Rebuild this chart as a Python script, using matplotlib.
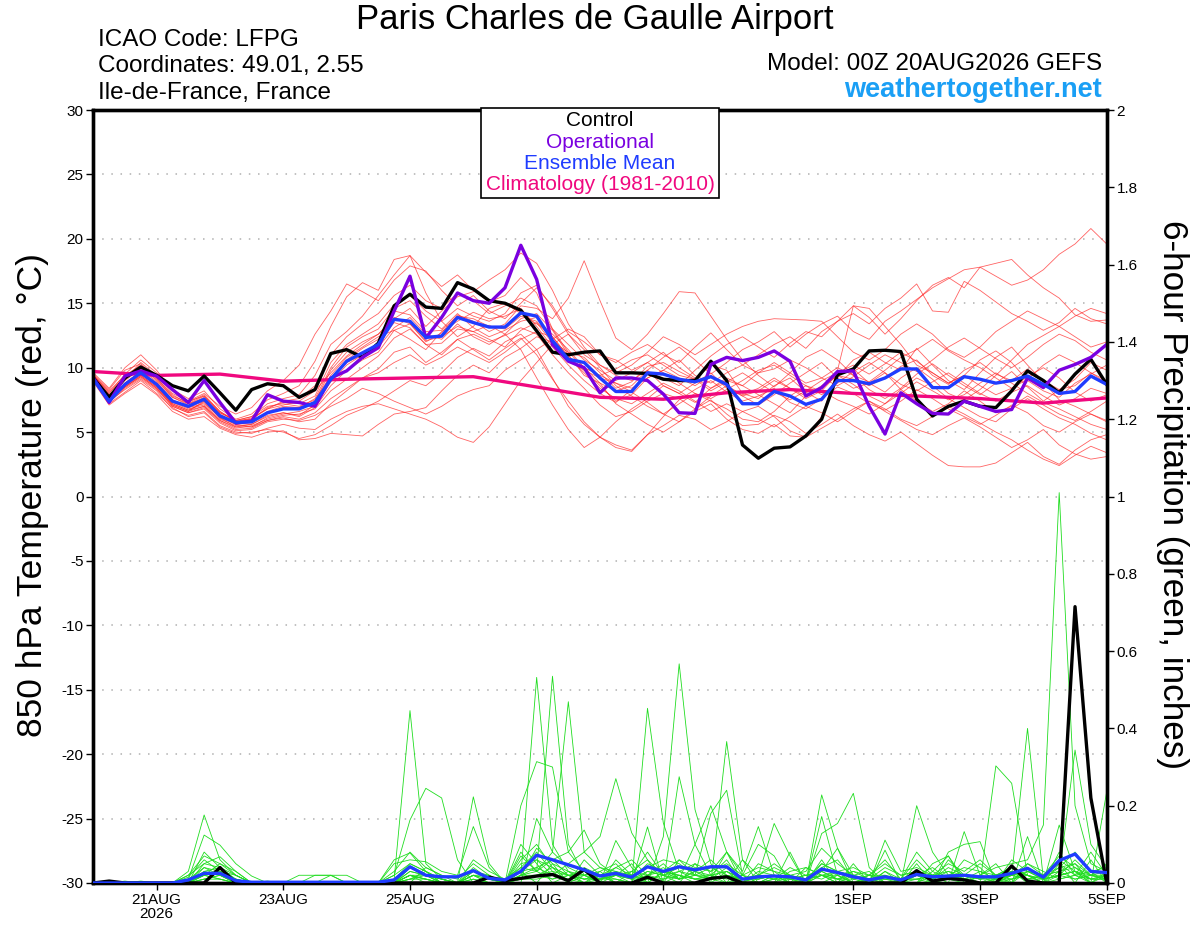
import numpy as np
import matplotlib
matplotlib.use("Agg")
import matplotlib.pyplot as plt
from matplotlib.patches import Rectangle

plt.rcParams['font.family'] = ['Liberation Sans', 'DejaVu Sans']

# ======================
# データ (6時間ごと, 20AUG2026 00Z から 5SEP 00Z まで)
# ======================
tick_days = [1, 3, 5, 7, 9, 12, 14, 16]
tick_labels = ["21AUG\n2026", "23AUG", "25AUG", "27AUG", "29AUG", "1SEP", "3SEP", "5SEP"]

control_t = [9.2, 7.7, 9.2, 10.05, 9.4, 8.6, 8.2, 9.35, 8.05, 6.7, 8.3, 8.75, 8.6, 7.7, 8.3, 11.1, 11.4, 10.8, 11.9, 14.8, 15.7, 14.7,
             14.6, 16.6, 16.1, 15.2, 15.0, 14.45, 12.85, 11.2, 11.0, 11.2, 11.3, 9.6, 9.6, 9.55, 9.1, 9.0, 9.0, 10.5, 9.0, 4.0, 2.97,
             3.75, 3.85, 4.7, 6.0, 9.45, 9.9, 11.3, 11.35, 11.25, 7.55, 6.25, 7.0, 7.4, 7.0, 6.9, 8.2, 9.75, 9.0, 8.05, 9.5, 10.65, 8.7]
oper_t = [9.2, 7.3, 9.35, 9.75, 9.35, 8.3, 7.3, 9.0, 7.3, 5.7, 5.85, 7.9, 7.4, 7.3, 7.0, 9.2, 9.75, 10.8, 11.55, 14.4, 17.1, 12.3,
          13.9, 15.8, 15.2, 15.0, 16.2, 19.5, 16.85, 11.8, 10.5, 10.0, 8.05, 9.2, 9.2, 9.0, 7.95, 6.5, 6.45, 10.25, 10.8, 10.55, 10.8,
          11.3, 10.5, 7.8, 8.45, 9.7, 9.75, 7.0, 4.85, 8.05, 7.2, 6.45, 6.4, 7.4, 7.0, 6.6, 6.75, 9.2, 8.45, 9.8, 10.25, 10.8, 11.8]
mean_t = [9.1, 7.4, 8.7, 9.6, 8.7, 7.4, 7.0, 7.55, 6.25, 5.75, 5.8, 6.5, 6.8, 6.8, 7.3, 9.1, 10.5, 11.15, 11.8, 13.75, 13.6, 12.35,
          12.45, 13.9, 13.5, 13.15, 13.15, 14.25, 14.0, 12.1, 10.65, 10.4, 9.2, 8.15, 8.15, 9.6, 9.5, 9.1, 8.9, 9.3, 8.7, 7.2, 7.2,
          8.15, 7.8, 7.15, 7.55, 9.0, 9.0, 8.75, 9.2, 9.9, 9.9, 8.45, 8.45, 9.3, 9.1, 8.8, 9.0, 9.35, 8.7, 8.0, 8.15, 9.35, 8.7]
# 気候値は日ごと
clim_t = [9.7, 9.4, 9.5, 8.95, 9.1, 9.2, 9.3, 8.5, 7.7, 7.55, 8.05, 8.3, 8.0, 7.8, 7.6, 7.25, 7.65]

temp_m01 = [9.4, 8.0, 9.5, 10.6, 9.6, 8.3, 7.6, 8.2, 6.8, 6.0, 6.4, 7.5, 8.0, 8.6, 10.5,
            13.2, 15.5, 16.6, 16.0, 18.4, 18.7, 17.4, 16.3, 17.2, 16.0, 15.1, 15.6, 17.0, 15.8,
            13.0, 11.2, 10.8, 9.6, 8.4, 8.9, 10.1, 10.4, 9.7, 9.1, 10.2, 9.8, 8.0, 7.6,
            8.6, 9.2, 8.1, 7.4, 9.3, 10.6, 11.2, 10.4, 9.8, 11.5, 10.2, 9.0, 8.3, 9.6, 10.8, 11.6, 10.2, 8.9, 7.5, 7.0, 6.4, 5.8]
temp_m02 = [9.0, 7.2, 8.1, 9.0, 8.0, 6.9, 6.2, 6.5, 5.4, 4.9, 5.0, 5.2, 5.0, 4.5, 4.8,
            5.5, 6.3, 6.8, 7.4, 8.2, 9.0, 8.6, 9.6, 10.8, 11.5, 10.9, 12.0, 12.6, 11.4,
            9.2, 7.0, 5.6, 4.6, 4.0, 3.6, 4.8, 5.5, 6.3, 6.0, 5.2, 5.8, 6.6, 7.0,
            6.2, 5.1, 4.6, 5.3, 6.0, 6.8, 7.4, 6.6, 5.9, 5.2, 4.8, 5.5, 6.1, 5.4, 4.6, 3.8, 4.4, 5.2, 4.0, 3.3, 2.9, 3.1]
temp_m03 = [9.5, 8.3, 9.8, 10.3, 9.2, 7.8, 7.3, 7.9, 6.6, 5.8, 6.1, 6.8, 7.1, 7.4, 8.2,
            9.6, 10.9, 11.8, 12.6, 13.8, 14.6, 13.2, 14.4, 15.5, 15.9, 16.8, 17.6, 18.9, 18.1,
            16.0, 13.4, 11.6, 10.2, 9.4, 9.0, 9.8, 8.6, 8.0, 8.8, 9.6, 8.4, 7.8, 8.2,
            9.0, 8.4, 7.6, 8.2, 9.5, 9.9, 8.8, 8.1, 9.2, 10.0, 9.1, 8.0, 7.5, 8.3, 9.4, 10.6, 11.8, 12.5, 13.2, 12.4, 11.6, 12.0]
temp_m04 = [9.2, 7.6, 8.6, 9.4, 8.5, 7.3, 6.8, 7.1, 6.0, 5.5, 5.6, 6.3, 6.5, 6.2, 6.9,
            8.6, 9.8, 10.6, 11.2, 12.9, 13.4, 12.0, 12.7, 14.1, 13.6, 12.8, 13.4, 14.8, 14.6,
            13.8, 15.4, 18.3, 15.2, 12.3, 11.4, 12.6, 14.2, 15.9, 15.8, 14.0, 12.2, 10.6, 9.4,
            8.5, 9.6, 10.8, 11.4, 10.6, 9.4, 8.3, 7.6, 8.4, 9.5, 10.3, 9.4, 8.6, 7.9, 8.8, 9.7, 8.5, 7.4, 8.3, 9.1, 10.4, 9.8]
temp_m05 = [9.3, 7.9, 9.0, 9.9, 8.9, 7.5, 7.0, 7.6, 6.4, 5.7, 5.7, 6.6, 7.0, 6.9, 7.6,
            10.0, 11.6, 12.4, 13.0, 14.6, 15.2, 14.0, 13.0, 14.2, 13.1, 12.4, 12.9, 13.6, 13.9,
            12.4, 10.9, 9.8, 8.6, 7.4, 7.9, 9.2, 9.8, 10.6, 9.4, 8.8, 9.6, 10.2, 11.0,
            11.8, 12.4, 11.5, 12.8, 13.6, 14.8, 13.9, 12.6, 13.8, 15.2, 16.4, 17.0, 16.2, 17.8, 17.1, 16.4, 16.8, 17.6, 18.8, 19.6, 20.8, 19.6]
temp_m06 = [9.1, 7.5, 8.8, 9.7, 8.6, 7.1, 6.6, 7.4, 6.1, 5.6, 5.4, 6.1, 6.4, 6.6, 7.0,
            9.2, 10.4, 11.0, 11.9, 13.5, 13.1, 11.8, 11.9, 13.0, 12.8, 13.3, 12.6, 13.8, 14.2,
            12.9, 11.0, 9.4, 8.8, 8.2, 8.6, 9.8, 10.8, 11.6, 10.6, 9.5, 10.4, 11.4, 12.0,
            12.8, 11.6, 12.6, 13.4, 14.0, 12.8, 12.2, 13.6, 14.4, 15.3, 16.2, 16.9, 17.6, 17.8, 18.1, 18.4, 17.2, 16.2, 15.4, 14.1, 13.6, 13.7]
temp_m07 = [9.4, 8.1, 9.2, 10.1, 9.0, 7.7, 7.1, 7.7, 6.5, 5.9, 6.2, 7.0, 7.2, 7.0, 7.5,
            9.4, 10.8, 11.6, 12.4, 12.9, 12.2, 11.4, 12.8, 13.6, 14.3, 13.8, 14.0, 14.6, 13.2,
            11.6, 10.2, 9.0, 8.0, 7.3, 8.3, 9.6, 9.2, 8.6, 9.8, 10.9, 11.8, 12.4, 11.6,
            10.8, 11.9, 12.8, 12.4, 13.6, 14.2, 13.4, 14.6, 15.4, 16.5, 14.4, 14.3, 16.7, 16.0, 15.1, 14.2, 13.6, 12.9, 13.5, 14.6, 13.8, 13.4]
temp_m08 = [9.0, 7.3, 8.4, 9.2, 8.3, 7.0, 6.5, 6.9, 5.8, 5.2, 5.3, 5.9, 6.2, 6.0, 6.5,
            7.6, 8.4, 9.2, 9.9, 11.2, 11.6, 10.4, 11.2, 12.2, 12.6, 12.0, 12.5, 13.1, 12.6,
            11.0, 9.6, 8.4, 7.1, 6.2, 6.6, 7.4, 8.0, 7.6, 6.8, 7.5, 6.4, 5.5, 5.6,
            6.3, 5.8, 4.9, 5.6, 6.4, 5.5, 4.8, 4.3, 5.0, 4.1, 3.2, 2.4, 2.3, 2.3, 2.6, 3.4, 4.2, 3.1, 2.5, 3.6, 4.4, 4.8]
temp_m09 = [9.2, 7.7, 8.7, 9.5, 8.7, 7.4, 6.9, 7.2, 6.2, 5.6, 5.8, 6.5, 6.9, 6.8, 7.4,
            9.8, 11.2, 12.0, 12.6, 13.9, 13.4, 12.1, 12.4, 13.2, 12.8, 12.2, 11.6, 12.9, 13.5,
            11.9, 10.5, 9.8, 9.2, 8.8, 8.1, 7.3, 6.4, 5.8, 6.6, 7.2, 6.0, 5.2, 4.9,
            5.6, 4.7, 4.6, 6.2, 9.8, 14.8, 14.6, 13.2, 11.8, 10.2, 9.6, 8.8, 9.4, 10.6, 11.3, 10.4, 9.0, 8.2, 7.7, 8.8, 9.5, 10.2]
temp_m10 = [9.1, 7.4, 8.3, 9.1, 8.2, 6.8, 6.3, 6.6, 5.5, 5.0, 4.9, 5.3, 5.6, 5.3, 5.2,
            6.0, 6.6, 7.0, 7.2, 6.8, 6.4, 6.0, 5.4, 4.6, 4.2, 5.4, 7.2, 9.0, 10.4,
            11.8, 12.6, 11.4, 10.0, 8.6, 7.8, 7.0, 6.4, 7.2, 8.0, 7.4, 6.8, 6.0, 5.8,
            6.6, 7.8, 8.6, 8.2, 7.5, 7.0, 6.4, 7.2, 8.3, 9.2, 8.6, 7.6, 6.9, 6.2, 5.8, 6.8, 7.6, 6.8, 6.1, 5.6, 4.9, 4.4]
temp_m11 = [9.6, 8.4, 10.0, 11.0, 9.8, 8.2, 7.4, 8.0, 7.0, 6.4, 6.9, 8.2, 9.0, 10.2, 12.6,
            14.4, 16.5, 15.9, 15.2, 16.8, 17.9, 17.5, 16.0, 14.8, 15.6, 14.4, 13.8, 15.0, 16.2,
            14.8, 12.8, 12.0, 11.0, 10.6, 9.8, 10.4, 11.2, 10.0, 9.2, 8.4, 9.0, 8.6, 9.6,
            10.4, 9.6, 8.8, 9.2, 10.0, 9.4, 8.9, 9.8, 10.8, 11.4, 12.2, 11.3, 10.6, 10.0, 9.2, 8.4, 9.1, 10.2, 11.0, 10.4, 9.6, 9.0]
temp_m12 = [8.9, 7.1, 8.0, 8.8, 7.9, 6.6, 6.0, 6.2, 5.3, 4.8, 4.6, 5.0, 5.1, 4.4, 4.5,
            4.9, 4.8, 4.7, 5.6, 6.4, 6.6, 6.9, 8.2, 9.4, 10.2, 9.6, 10.8, 11.5, 12.4,
            12.0, 11.2, 10.0, 8.8, 7.2, 6.4, 5.6, 5.0, 5.8, 6.8, 7.8, 8.6, 7.8, 7.1,
            7.9, 8.8, 9.6, 10.4, 9.2, 8.4, 8.8, 9.6, 8.3, 7.4, 6.6, 7.2, 8.2, 7.4, 6.5, 7.0, 7.8, 7.1, 6.4, 5.9, 6.6, 7.4]
temp_m13 = [9.3, 7.8, 9.1, 10.0, 9.1, 7.7, 7.2, 7.8, 6.6, 5.9, 6.2, 7.2, 7.6, 7.9, 9.4,
            11.8, 12.8, 14.0, 15.6, 17.2, 18.7, 15.8, 13.6, 12.4, 13.2, 14.6, 15.0, 14.2, 13.4,
            12.6, 11.4, 10.0, 9.4, 9.9, 10.6, 11.0, 10.2, 9.4, 9.1, 8.2, 8.9, 9.6, 8.8,
            8.1, 7.5, 8.2, 9.0, 9.6, 10.2, 9.5, 10.3, 11.2, 10.5, 9.6, 8.8, 9.4, 8.6, 7.9, 8.4, 9.3, 10.0, 9.2, 8.1, 7.4, 7.9]
temp_m14 = [9.0, 7.4, 8.5, 9.3, 8.4, 7.1, 6.6, 7.0, 5.9, 5.3, 5.5, 6.0, 6.3, 6.4, 6.8,
            8.2, 9.1, 10.0, 10.9, 12.3, 13.0, 11.8, 11.0, 12.2, 11.4, 10.6, 11.5, 12.3, 11.0,
            9.1, 7.4, 5.8, 4.6, 3.8, 3.5, 4.8, 6.2, 7.5, 8.3, 9.0, 8.1, 7.4, 7.8,
            8.4, 7.3, 6.8, 7.6, 8.5, 8.0, 7.2, 6.7, 7.4, 8.3, 7.6, 6.8, 6.2, 5.6, 6.3, 7.1, 6.5, 5.5, 5.0, 5.8, 6.4, 5.9]
temp_m15 = [9.2, 7.6, 8.6, 9.6, 8.6, 7.2, 6.7, 7.3, 6.1, 5.4, 5.6, 6.2, 6.5, 6.3, 7.1,
            8.9, 10.2, 11.0, 11.6, 13.1, 13.9, 12.6, 12.2, 13.4, 12.4, 11.8, 12.6, 11.4, 9.2,
            7.1, 5.2, 3.8, 4.6, 5.8, 6.8, 7.6, 8.6, 8.0, 7.3, 8.4, 9.2, 8.6, 7.9,
            7.2, 6.5, 7.8, 8.6, 9.4, 8.7, 7.8, 7.2, 8.0, 8.9, 8.2, 7.5, 7.9, 8.8, 9.6, 8.8, 8.0, 7.3, 6.8, 6.2, 5.6, 5.2]
temp_m16 = [9.1, 7.5, 8.5, 9.3, 8.4, 7.0, 6.5, 6.8, 5.7, 5.1, 5.2, 5.8, 6.0, 5.9, 6.3,
            7.0, 7.6, 8.4, 8.0, 7.4, 6.9, 6.4, 7.0, 7.8, 8.3, 8.6, 9.8, 10.6, 11.4,
            12.2, 13.0, 12.4, 11.0, 10.4, 11.2, 11.8, 11.0, 10.4, 11.6, 12.7, 11.4, 10.2, 9.6,
            9.9, 10.6, 10.0, 9.2, 8.6, 9.3, 10.2, 11.0, 10.4, 9.7, 10.6, 11.6, 12.3, 11.5, 10.7, 10.0, 10.8, 11.8, 12.6, 12.1, 11.2, 10.6]
temp_m17 = [9.2, 7.7, 8.8, 9.7, 8.8, 7.4, 6.9, 7.4, 6.2, 5.7, 5.9, 6.5, 6.8, 6.9, 7.3,
            9.1, 10.6, 11.5, 12.2, 14.4, 14.1, 12.8, 12.9, 14.0, 13.8, 13.2, 13.0, 14.0, 13.6,
            12.2, 10.6, 10.0, 9.4, 8.8, 8.4, 9.2, 9.8, 9.2, 8.6, 9.4, 8.6, 7.9, 8.4,
            9.2, 8.4, 7.8, 8.4, 9.4, 9.1, 8.6, 9.2, 10.1, 10.6, 9.4, 8.7, 9.8, 10.4, 9.5, 9.0, 9.9, 9.0, 8.3, 8.6, 9.6, 8.8]
temp_m18 = [9.3, 7.9, 9.1, 10.4, 9.4, 8.0, 7.4, 7.8, 6.5, 5.9, 6.0, 6.8, 7.4, 7.6, 8.6,
            11.0, 12.4, 13.4, 14.2, 15.6, 16.4, 15.2, 14.6, 15.8, 15.2, 14.2, 14.8, 15.4, 14.8,
            13.0, 11.8, 10.6, 9.8, 9.0, 9.6, 10.4, 9.6, 8.8, 8.0, 7.6, 8.3, 9.0, 9.8,
            10.2, 9.4, 8.6, 7.9, 8.8, 9.7, 10.4, 9.6, 8.7, 8.2, 8.9, 9.6, 8.8, 8.0, 7.4, 8.1, 8.6, 7.8, 7.1, 7.6, 8.4, 8.0]
temp_m19 = [9.1, 7.6, 8.5, 9.4, 8.5, 7.2, 6.7, 7.0, 5.9, 5.4, 5.4, 5.9, 6.1, 5.8, 6.0,
            7.2, 8.2, 9.2, 9.6, 10.4, 11.0, 10.2, 10.8, 11.6, 11.0, 10.4, 11.2, 12.2, 12.8,
            12.4, 10.8, 9.6, 8.4, 7.6, 7.2, 8.0, 8.8, 8.2, 7.4, 6.6, 7.2, 6.6, 6.0,
            5.4, 6.2, 7.0, 6.5, 5.8, 6.6, 7.4, 6.8, 6.0, 5.5, 6.2, 7.0, 6.4, 5.7, 5.0, 4.4, 3.6, 2.9, 2.4, 3.2, 3.9, 3.4]
temp_m20 = [9.4, 8.2, 9.4, 10.2, 9.2, 7.9, 7.2, 7.6, 6.3, 5.8, 6.0, 6.9, 7.3, 7.2, 7.8,
            10.4, 11.8, 12.6, 13.4, 14.9, 15.6, 14.4, 13.6, 14.6, 14.0, 13.6, 14.2, 15.8, 16.4,
            14.6, 12.6, 11.0, 10.2, 9.6, 10.2, 11.2, 12.4, 11.8, 11.0, 11.8, 12.6, 13.2, 13.6,
            13.8, 13.75, 13.7, 13.6, 12.4, 11.2, 10.6, 11.4, 12.6, 13.4, 12.6, 11.4, 10.8, 11.6, 12.8, 13.6, 14.4, 13.8, 13.2, 14.0, 14.6, 14.2]

# 降水量 (inches / 6h)
control_p = [0, 0.005, 0, 0, 0, 0, 0, 0, 0.04, 0, 0, 0, 0,
             0, 0, 0, 0, 0, 0, 0, 0, 0, 0, 0, 0, 0.015,
             0.006, 0.012, 0.018, 0.022, 0.006, 0.035, 0, 0, 0, 0.015, 0, 0, 0,
             0.012, 0.016, 0, 0, 0, 0, 0, 0, 0, 0, 0, 0, 0,
             0.032, 0.005, 0.012, 0.008, 0, 0, 0.044, 0.005, 0, 0, 0.715, 0.22, 0]
mean_p = [0, 0, 0, 0, 0, 0, 0.008, 0.025, 0.025, 0.006, 0.002, 0.002, 0.002,
          0.002, 0.002, 0.002, 0.002, 0.002, 0.002, 0.008, 0.042, 0.02, 0.016, 0.016, 0.032, 0.012,
          0.008, 0.03, 0.072, 0.06, 0.047, 0.034, 0.018, 0.025, 0.015, 0.042, 0.03, 0.042, 0.034,
          0.042, 0.042, 0.01, 0.016, 0.018, 0.016, 0.008, 0.036, 0.027, 0.016, 0.008, 0.016, 0.008,
          0.022, 0.016, 0.018, 0.02, 0.016, 0.016, 0.025, 0.038, 0.015, 0.058, 0.075, 0.03, 0.027]

precip_m01 = [0, 0, 0, 0, 0, 0, 0.03, 0.176, 0.06, 0.02, 0, 0, 0,
              0, 0, 0, 0, 0, 0, 0.01, 0.446, 0.05, 0.01, 0, 0.02, 0,
              0, 0.02, 0.532, 0.1, 0.03, 0, 0.02, 0.01, 0, 0, 0, 0.06, 0.02,
              0.01, 0.08, 0, 0, 0.02, 0, 0.04, 0.02, 0, 0, 0.01, 0, 0,
              0, 0.02, 0.01, 0, 0.02, 0, 0.01, 0.02, 0, 0.15, 0.03, 0, 0.02]
precip_m02 = [0, 0, 0.005, 0, 0, 0, 0.01, 0.124, 0.098, 0.05, 0.018, 0, 0,
              0, 0, 0, 0, 0, 0, 0.02, 0.163, 0.245, 0.22, 0.06, 0, 0,
              0, 0.08, 0.03, 0.535, 0.1, 0.02, 0, 0.02, 0.05, 0, 0.03, 0.01, 0.1,
              0.2, 0.08, 0.03, 0.146, 0.02, 0, 0, 0.02, 0.02, 0, 0.01, 0, 0,
              0, 0.03, 0.07, 0.01, 0, 0, 0.02, 0.05, 0.03, 0.01, 0.02, 0.08, 0.02]
precip_m03 = [0, 0, 0, 0.005, 0, 0, 0, 0.05, 0.068, 0.03, 0, 0, 0,
              0, 0, 0, 0, 0, 0, 0.06, 0.078, 0.03, 0, 0, 0.223, 0.05,
              0, 0.2, 0.314, 0.3, 0.08, 0.137, 0.05, 0.02, 0, 0.02, 0.04, 0.01, 0.03,
              0.02, 0, 0.06, 0.02, 0.154, 0.07, 0, 0.228, 0.09, 0.02, 0, 0.03, 0,
              0.2, 0.08, 0.02, 0.01, 0, 0.01, 0.02, 0.4, 0.01, 0.02, 0.03, 0, 0]
precip_m04 = [0, 0, 0, 0, 0, 0, 0.02, 0.05, 0.04, 0, 0, 0.005, 0,
              0.02, 0.02, 0.02, 0, 0, 0, 0, 0.04, 0.02, 0, 0, 0, 0,
              0, 0, 0.167, 0.08, 0.469, 0.08, 0.12, 0.27, 0.13, 0.06, 0, 0.02, 0,
              0, 0.366, 0.06, 0, 0, 0.08, 0, 0.172, 0.02, 0, 0, 0.085, 0,
              0, 0, 0, 0.133, 0.02, 0.05, 0, 0.12, 0, 0.05, 0, 0.06, 0]
precip_m05 = [0, 0, 0, 0, 0, 0, 0, 0.03, 0.02, 0, 0, 0, 0,
              0, 0, 0, 0, 0, 0, 0.05, 0.06, 0.055, 0.03, 0.02, 0.146, 0.04,
              0, 0.06, 0.1, 0.04, 0, 0, 0.03, 0, 0, 0.452, 0.155, 0.03, 0.02,
              0.18, 0.24, 0.02, 0.1, 0.07, 0, 0, 0.128, 0.154, 0.232, 0.04, 0, 0,
              0.02, 0, 0.08, 0.1, 0.107, 0, 0.03, 0, 0, 0.02, 0.344, 0.1, 0.04]
precip_m06 = [0, 0, 0, 0, 0, 0, 0, 0.08, 0.04, 0.02, 0, 0, 0,
              0, 0, 0.02, 0.02, 0, 0, 0, 0.02, 0.01, 0, 0, 0, 0,
              0, 0.03, 0, 0.05, 0, 0.02, 0, 0.11, 0.04, 0, 0.12, 0.567, 0.19,
              0.05, 0, 0.02, 0, 0, 0.03, 0.04, 0.02, 0, 0.05, 0, 0.111, 0.03,
              0.04, 0.02, 0, 0, 0, 0.303, 0.258, 0.02, 0, 0.08, 0.02, 0, 0.236]
precip_m07 = [0, 0, 0, 0, 0, 0, 0.015, 0.06, 0.03, 0, 0, 0, 0,
              0, 0, 0, 0, 0, 0, 0, 0.03, 0.02, 0, 0, 0.06, 0.03,
              0.01, 0.04, 0.08, 0.03, 0, 0.06, 0.02, 0, 0, 0.145, 0, 0.275, 0.1,
              0.02, 0.06, 0, 0, 0.02, 0, 0, 0.03, 0.09, 0, 0.02, 0, 0,
              0.05, 0, 0.06, 0.02, 0, 0, 0.06, 0.03, 0.02, 0.04, 0.08, 0.03, 0]
precip_m08 = [0, 0, 0, 0, 0, 0, 0, 0.02, 0.05, 0.03, 0, 0, 0,
              0, 0.02, 0.02, 0, 0, 0, 0, 0, 0.04, 0.02, 0, 0, 0,
              0, 0.1, 0.05, 0, 0.02, 0, 0, 0.06, 0.02, 0, 0, 0, 0.05,
              0, 0, 0, 0.05, 0.03, 0, 0, 0.06, 0, 0.02, 0.03, 0, 0,
              0, 0.05, 0.07, 0, 0, 0.02, 0, 0.05, 0.02, 0.03, 0.05, 0, 0.03]
precip_m09 = [0, 0, 0, 0, 0, 0, 0, 0, 0, 0, 0, 0, 0,
              0, 0, 0, 0, 0, 0, 0, 0.02, 0, 0, 0, 0, 0,
              0, 0.02, 0.04, 0.06, 0.02, 0, 0, 0, 0, 0.03, 0.02, 0, 0,
              0, 0.03, 0, 0, 0, 0, 0, 0, 0.02, 0, 0, 0.02, 0,
              0, 0, 0, 0, 0.02, 0.04, 0.05, 0.06, 0.15, 1.01, 0.2, 0.05, 0.03]
precip_m10 = [0, 0, 0, 0, 0, 0, 0.01, 0.04, 0.02, 0.01, 0, 0, 0,
              0, 0, 0, 0, 0, 0, 0, 0.02, 0.01, 0, 0, 0.03, 0.02,
              0, 0.05, 0.06, 0.02, 0.01, 0.04, 0.02, 0, 0.03, 0.06, 0.02, 0.04, 0.03,
              0.06, 0.02, 0, 0.03, 0.02, 0.01, 0, 0.05, 0.03, 0, 0.01, 0.04, 0.02,
              0.03, 0, 0.02, 0.04, 0.03, 0.01, 0, 0.03, 0.01, 0.02, 0.06, 0.02, 0.05]
precip_m11 = [0, 0, 0, 0, 0, 0, 0.02, 0.07, 0.05, 0.02, 0, 0, 0,
              0, 0, 0, 0, 0, 0, 0.03, 0.08, 0.04, 0.02, 0.01, 0.05, 0.02,
              0, 0.07, 0.03, 0.08, 0.04, 0.02, 0.03, 0.05, 0.01, 0, 0.03, 0.06, 0.04,
              0.03, 0.08, 0.02, 0, 0.01, 0.02, 0.03, 0.09, 0.05, 0.02, 0, 0.03, 0.01,
              0.08, 0.03, 0.01, 0.06, 0.04, 0, 0.02, 0.04, 0.01, 0.06, 0.03, 0.02, 0.01]
precip_m12 = [0, 0, 0, 0, 0, 0, 0, 0.03, 0.04, 0.01, 0, 0, 0,
              0, 0, 0, 0, 0, 0, 0.01, 0.05, 0.03, 0.01, 0, 0.04, 0.01,
              0, 0.03, 0.04, 0.02, 0.05, 0.08, 0.04, 0.02, 0.01, 0.05, 0.03, 0.02, 0.01,
              0.01, 0.04, 0, 0.02, 0.04, 0.02, 0, 0.04, 0.06, 0.01, 0.02, 0.05, 0.02,
              0.03, 0.01, 0.04, 0.02, 0.01, 0.02, 0.04, 0.02, 0, 0.03, 0.04, 0.01, 0.02]
precip_m13 = [0, 0, 0, 0, 0, 0, 0.01, 0.02, 0.03, 0.02, 0, 0, 0,
              0, 0, 0, 0, 0, 0, 0, 0.04, 0.02, 0, 0, 0.02, 0.01,
              0, 0.02, 0.09, 0.05, 0.03, 0.01, 0.02, 0.04, 0.06, 0.02, 0.05, 0.01, 0.02,
              0.04, 0.02, 0.01, 0.02, 0.01, 0.04, 0.02, 0.03, 0.01, 0.03, 0.01, 0.02, 0,
              0.02, 0.04, 0.01, 0.02, 0.05, 0.02, 0.03, 0.01, 0.02, 0.05, 0.02, 0.03, 0.04]
precip_m14 = [0, 0, 0, 0, 0, 0, 0, 0.01, 0.02, 0, 0, 0, 0,
              0, 0, 0, 0, 0, 0, 0, 0.01, 0.02, 0.01, 0, 0.01, 0,
              0, 0.01, 0.02, 0.04, 0.02, 0.01, 0.01, 0.02, 0.03, 0.02, 0.01, 0.03, 0.01,
              0.02, 0.01, 0.02, 0.01, 0.02, 0.01, 0.02, 0.01, 0.03, 0.02, 0.01, 0.01, 0.01,
              0.01, 0.02, 0.03, 0.01, 0.02, 0.01, 0.02, 0.01, 0.02, 0.03, 0.01, 0.02, 0.01]
precip_m15 = [0, 0, 0, 0, 0, 0, 0, 0.02, 0.03, 0.01, 0, 0, 0,
              0, 0, 0, 0, 0, 0, 0.02, 0.05, 0.03, 0, 0, 0.03, 0.01,
              0, 0.04, 0.03, 0.06, 0.08, 0.03, 0.01, 0.04, 0.02, 0.08, 0.02, 0.03, 0.05,
              0.03, 0.05, 0.02, 0.04, 0.03, 0.02, 0.01, 0.05, 0.03, 0.04, 0.02, 0.06, 0.01,
              0.06, 0.02, 0.05, 0.03, 0.06, 0.02, 0.04, 0.02, 0.01, 0.04, 0.05, 0.02, 0.03]
precip_m16 = [0, 0, 0, 0, 0, 0, 0.005, 0.02, 0.01, 0, 0, 0, 0,
              0, 0, 0, 0, 0, 0, 0, 0.02, 0.01, 0, 0, 0.02, 0,
              0, 0.02, 0.03, 0.01, 0.02, 0.03, 0.01, 0.02, 0.01, 0.03, 0.02, 0.01, 0.02,
              0.01, 0.02, 0.01, 0.01, 0.02, 0.01, 0.02, 0.03, 0.01, 0.01, 0.02, 0.01, 0.01,
              0.02, 0.01, 0.01, 0.02, 0.01, 0.02, 0.01, 0.03, 0.01, 0.02, 0.03, 0.01, 0.02]
precip_m17 = [0, 0, 0, 0, 0, 0, 0, 0.04, 0.03, 0.01, 0, 0, 0,
              0, 0, 0, 0, 0, 0, 0, 0.03, 0.02, 0.01, 0, 0.02, 0.02,
              0, 0.03, 0.06, 0.04, 0.02, 0.02, 0.04, 0.03, 0.02, 0.04, 0.06, 0.05, 0.02,
              0.02, 0.03, 0.01, 0.02, 0.05, 0.02, 0.01, 0.04, 0.02, 0.03, 0.02, 0.02, 0.01,
              0.03, 0.02, 0.02, 0.01, 0.03, 0.02, 0.02, 0.03, 0.02, 0.07, 0.04, 0.02, 0.02]
precip_m18 = [0, 0, 0, 0, 0, 0, 0, 0.01, 0.01, 0, 0, 0, 0,
              0, 0, 0, 0, 0, 0, 0, 0.01, 0.01, 0, 0, 0, 0,
              0, 0.01, 0.01, 0.02, 0.01, 0, 0.01, 0.01, 0, 0.01, 0.01, 0.02, 0.01,
              0.01, 0, 0.01, 0, 0.01, 0.01, 0, 0.02, 0.01, 0, 0.01, 0, 0.01,
              0.01, 0, 0.01, 0.01, 0, 0.01, 0.01, 0.02, 0, 0.01, 0.02, 0.01, 0.01]
precip_m19 = [0, 0, 0, 0, 0, 0, 0, 0.02, 0.01, 0, 0, 0, 0,
              0, 0, 0, 0, 0, 0, 0, 0.02, 0.02, 0.01, 0, 0.02, 0.01,
              0, 0.02, 0.02, 0.03, 0.02, 0.01, 0.02, 0.03, 0.01, 0.02, 0.03, 0.02, 0.01,
              0.02, 0.03, 0.01, 0.02, 0.01, 0, 0.01, 0.02, 0.03, 0.01, 0, 0.02, 0,
              0.02, 0.01, 0.03, 0.02, 0.01, 0.02, 0.03, 0.02, 0.01, 0.02, 0.03, 0.01, 0.01]
precip_m20 = [0, 0, 0, 0, 0, 0, 0, 0.01, 0.02, 0, 0, 0, 0,
              0, 0, 0, 0, 0, 0, 0, 0.01, 0.03, 0.01, 0, 0.01, 0,
              0, 0.01, 0.02, 0.01, 0.03, 0.02, 0.01, 0.02, 0.02, 0.01, 0.02, 0.01, 0.03,
              0.01, 0.02, 0.01, 0.01, 0.02, 0.01, 0.01, 0.02, 0.01, 0.02, 0.01, 0.01, 0,
              0.01, 0.02, 0.01, 0.02, 0.01, 0.01, 0.02, 0.01, 0.01, 0.02, 0.01, 0.02, 0.01]

temp_members = [temp_m01, temp_m02, temp_m03, temp_m04, temp_m05, temp_m06, temp_m07, temp_m08, temp_m09, temp_m10,
                temp_m11, temp_m12, temp_m13, temp_m14, temp_m15, temp_m16, temp_m17, temp_m18, temp_m19, temp_m20]
precip_members = [precip_m01, precip_m02, precip_m03, precip_m04, precip_m05, precip_m06, precip_m07, precip_m08,
                  precip_m09, precip_m10, precip_m11, precip_m12, precip_m13, precip_m14, precip_m15, precip_m16,
                  precip_m17, precip_m18, precip_m19, precip_m20]


def hours(series, step=6):
    return np.arange(len(series)) * step


# ======================
# 描画
# ======================
W, H = 1200, 927
fig = plt.figure(figsize=(W / 100, H / 100), dpi=100)
L, R, T, B = 93.3, 1106.7, 110, 883
ax = fig.add_axes([L / W, 1 - B / H, (R - L) / W, (B - T) / H])
ax2 = ax.twinx()

for m in temp_members:
    ax.plot(hours(m), m, color="#ff2020", lw=0.6, alpha=0.7, zorder=1)
ax.plot(hours(clim_t, 24), clim_t, color="#f0087f", lw=2.4, zorder=3)
ax.plot(hours(control_t), control_t, color="black", lw=2.4, zorder=4)
ax.plot(hours(oper_t), oper_t, color="#7a00e0", lw=2.4, zorder=5)
ax.plot(hours(mean_t), mean_t, color="#1f3cff", lw=2.4, zorder=6)

for m in precip_members:
    ax2.plot(hours(m), m, color="#20dd20", lw=0.6, zorder=1)
ax2.plot(hours(control_p), control_p, color="black", lw=2.4, zorder=4)
ax2.plot(hours(mean_p), mean_p, color="#1f3cff", lw=2.4, zorder=5)

ax.set_xlim(0, 384)
ax.set_ylim(-30, 30)
ax2.set_ylim(0, 2)

ax.set_yticks(np.arange(-30, 31, 5))
ax.set_yticklabels([str(v) for v in range(-30, 31, 5)], fontsize=11)
ax2.set_yticks(np.arange(0, 2.01, 0.2))
ax2.set_yticklabels(["0", "0.2", "0.4", "0.6", "0.8", "1", "1.2", "1.4", "1.6", "1.8", "2"], fontsize=11)
ax.set_xticks([d * 24 for d in tick_days])
ax.set_xticklabels(tick_labels, fontsize=11, linespacing=1.0)

for v in range(-25, 30, 5):
    ax.axhline(v, color="#b0b0b0", lw=1.1, ls=(0, (1, 5)), zorder=0)

for a in (ax, ax2):
    for s in a.spines.values():
        s.set_linewidth(2.4)
ax.tick_params(axis="both", direction="out", length=5, width=1, pad=2)
ax2.tick_params(axis="y", direction="out", length=5, width=1, pad=2)

# 軸ラベル
fig.text(33 / W, 1 - 495 / H, "850 hPa Temperature (red, °C)", rotation=90,
         ha="center", va="center", fontsize=25.5)
fig.text(1172 / W, 1 - 495 / H, "6-hour Precipitation (green, inches)", rotation=270,
         ha="center", va="center", fontsize=25.3)

# ヘッダー
fig.text(595 / W, 1 - 19 / H, "Paris Charles de Gaulle Airport", ha="center", va="center", fontsize=25)
fig.text(98 / W, 1 - 40 / H, "ICAO Code: LFPG", ha="left", va="center", fontsize=17.5)
fig.text(98 / W, 1 - 66 / H, "Coordinates: 49.01, 2.55", ha="left", va="center", fontsize=17.5)
fig.text(98 / W, 1 - 93 / H, "Ile-de-France, France", ha="left", va="center", fontsize=17.5)
fig.text(1102 / W, 1 - 64 / H, "Model: 00Z 20AUG2026 GEFS", ha="right", va="center", fontsize=17.5)
fig.text(1102 / W, 1 - 90 / H, "weathertogether.net", ha="right", va="center", fontsize=19.5,
         fontweight="bold", color="#1a9ff5")

# 凡例
fig.add_artist(Rectangle((481 / W, 1 - 198 / H), 238 / W, 90 / H, transform=fig.transFigure,
                         facecolor="white", edgecolor="black", lw=1.2, zorder=5))
legend_items = [("Control", "black"), ("Operational", "#7a00e0"),
                ("Ensemble Mean", "#1f3cff"), ("Climatology (1981-2010)", "#f0087f")]
for k, (txt, col) in enumerate(legend_items):
    fig.text(600 / W, 1 - (121 + 21.3 * k) / H, txt, ha="center", va="center",
             fontsize=15, color=col, zorder=6)

fig.savefig("out.png", dpi=100)
